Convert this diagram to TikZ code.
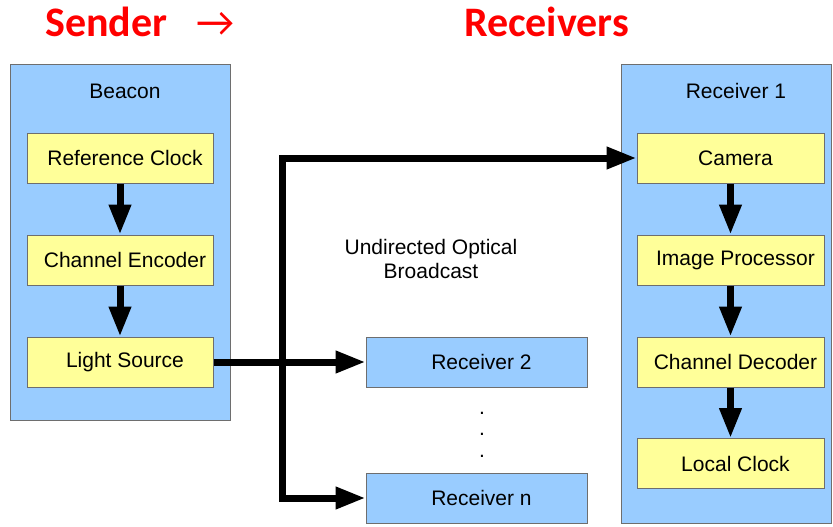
\documentclass[tikz,border=0pt]{standalone}
\usepackage{fontspec}
\setmainfont{Liberation Sans}
\newfontfamily\headfont{Carlito}
\usetikzlibrary{arrows.meta}
\definecolor{panelblue}{HTML}{99CCFF}
\definecolor{stageyellow}{HTML}{FFFF99}
\definecolor{edgegray}{HTML}{6E6E6E}
\definecolor{headred}{HTML}{FF0000}
\begin{document}
\begin{tikzpicture}[x=1pt,y=-1pt,
  panel/.style={draw=edgegray,line width=1pt,fill=panelblue,inner sep=0pt},
  stage/.style={draw=edgegray,line width=1pt,fill=stageyellow,inner sep=0pt,
    minimum width=186pt,minimum height=50pt,
    font=\fontsize{21}{24}\selectfont,execute at begin node={\hspace*{10pt}}},
  rxbox/.style={stage,fill=panelblue,minimum width=221pt},
  plain/.style={inner sep=0pt,font=\fontsize{21}{24}\selectfont},
  heading/.style={inner sep=0pt,anchor=base,text=headred,
    font=\headfont\bfseries\fontsize{42}{48}\selectfont},
  flow/.style={line width=7pt,-{Triangle[length=30pt,width=21pt]}},
  wire/.style={line width=7pt}
]
\useasboundingbox (0,0) rectangle (833,527);
\fill[white] (0,0) rectangle (833,527);

% headings
\node[heading,anchor=base west] (hsend) at (45,37) {Sender\hspace{0.7em}{\mdseries →}};
\node[heading] (hrecv) at (546.5,37) {Receivers};

% sender panel
\node[panel,minimum width=220pt,minimum height=355pt] (beacon) at (120,242.5) {};
\node[plain] (beacontitle) at (125,91) {Beacon};
\node[stage] (refclk) at (120,158) {Reference Clock};
\node[stage] (enc) at (120,260) {Channel Encoder};
\node[stage] (light) at (120,362) {Light Source};

% receiver 1 panel
\node[panel,minimum width=210pt,minimum height=458pt] (rx1) at (726,294) {};
\node[plain] (rx1title) at (736,91) {Receiver 1};
\node[stage,minimum width=187pt] (cam) at (730.5,158) {Camera};
\node[stage,minimum width=187pt] (improc) at (730.5,260) {Image Processor};
\node[stage,minimum width=187pt] (dec) at (730.5,362) {Channel Decoder};
\node[stage,minimum width=187pt] (lclk) at (730.5,463.5) {Local Clock};

% other receivers
\node[rxbox] (rx2) at (476.5,362) {Receiver 2};
\node[rxbox] (rxn) at (476.5,498) {Receiver n};
\node[plain,align=center,font=\fontsize{21}{21.5}\selectfont,anchor=base] (dots) at (482,457) {.\\.\\.};

\node[plain,align=center] (bcast) at (431,259) {Undirected Optical\\Broadcast};

% internal chains
\draw[flow] (refclk) -- (enc);
\draw[flow] (enc) -- (light);
\draw[flow] (cam) -- (improc);
\draw[flow] (improc) -- (dec);
\draw[flow] (dec) -- (lclk);

% broadcast fan-out
\coordinate (split) at (282,362);
\draw[flow] (light.east) -- (rx2.west);
\draw[wire,line join=miter] (split) -- (282,158);
\draw[flow,line join=miter] (282,154.5) |- (cam.west);
\draw[flow,line join=miter] (split) |- (rxn.west);
\end{tikzpicture}
\end{document}
